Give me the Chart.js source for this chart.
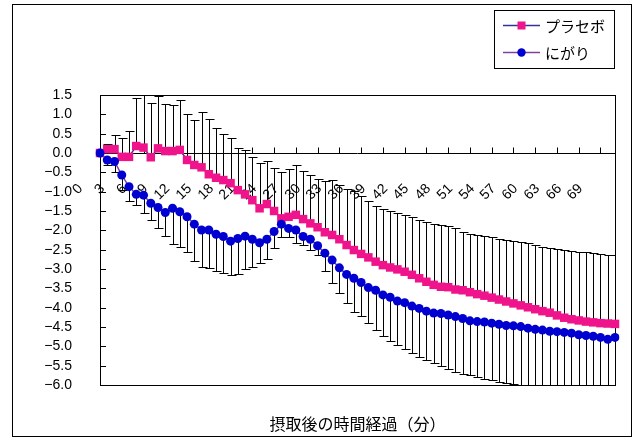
<!DOCTYPE html>
<html>
<head>
<meta charset="utf-8">
<script src="https://cdn.jsdelivr.net/npm/chart.js@4/dist/chart.umd.min.js"></script>
<style>
  html, body { margin: 0; padding: 0; background: #fff; }
  canvas { display: block; }
</style>
</head>
<body>
<canvas id="chart" width="642" height="441"></canvas>
<script>
// Minutes after intake (one sample per minute)
const minutes = [
  0, 1, 2, 3, 4, 5, 6, 7, 8, 9, 10, 11, 12, 13, 14, 15, 16, 17,
  18, 19, 20, 21, 22, 23, 24, 25, 26, 27, 28, 29, 30, 31, 32, 33, 34, 35,
  36, 37, 38, 39, 40, 41, 42, 43, 44, 45, 46, 47, 48, 49, 50, 51, 52, 53,
  54, 55, 56, 57, 58, 59, 60, 61, 62, 63, 64, 65, 66, 67, 68, 69, 70, 71
];

// Placebo: mean change and top of its (+) error bar
const placeboMean = [
  0.00, 0.10, 0.10, -0.10, -0.10, 0.18, 0.14, -0.11, 0.12, 0.05, 0.05, 0.08,
  -0.18, -0.31, -0.37, -0.55, -0.64, -0.70, -0.78, -0.96, -1.07, -1.22, -1.43, -1.32,
  -1.50, -1.69, -1.65, -1.60, -1.71, -1.82, -1.92, -2.05, -2.12, -2.23, -2.38, -2.51,
  -2.61, -2.70, -2.81, -2.90, -2.96, -3.01, -3.07, -3.15, -3.24, -3.33, -3.41, -3.46,
  -3.47, -3.53, -3.55, -3.60, -3.65, -3.69, -3.74, -3.79, -3.84, -3.89, -3.94, -3.99,
  -4.04, -4.09, -4.13, -4.20, -4.26, -4.30, -4.33, -4.36, -4.38, -4.40, -4.41, -4.42
];
const placeboUpper = [
  0.00, 0.23, 0.47, 0.39, 0.58, 1.42, 1.52, 1.30, 1.47, 1.28, 1.25, 1.38,
  1.00, 0.85, 1.05, 0.88, 0.65, 0.48, 0.40, 0.14, 0.08, -0.10, -0.25, -0.21,
  -0.40, -0.50, -0.42, -0.30, -0.46, -0.57, -0.68, -0.73, -0.70, -0.83, -0.93, -0.97,
  -1.10, -1.25, -1.37, -1.45, -1.51, -1.54, -1.60, -1.66, -1.72, -1.78, -1.83, -1.87,
  -1.90, -1.93, -2.04, -2.10, -2.13, -2.15, -2.18, -2.22, -2.25, -2.27, -2.31, -2.34,
  -2.38, -2.42, -2.45, -2.48, -2.52, -2.54, -2.55, -2.57, -2.59, -2.61, -2.63, -2.64
];

// Nigari: mean change and bottom of its (-) error bar
const nigariMean = [
  0.00, -0.18, -0.22, -0.57, -0.87, -1.07, -1.09, -1.30, -1.41, -1.54, -1.43, -1.52,
  -1.65, -1.84, -1.99, -1.99, -2.10, -2.16, -2.28, -2.21, -2.15, -2.23, -2.32, -2.23,
  -2.03, -1.84, -1.95, -1.99, -2.16, -2.23, -2.40, -2.59, -2.77, -2.97, -3.14, -3.24,
  -3.35, -3.48, -3.55, -3.67, -3.73, -3.83, -3.87, -3.96, -4.02, -4.09, -4.14, -4.15,
  -4.19, -4.23, -4.28, -4.34, -4.36, -4.37, -4.40, -4.43, -4.46, -4.47, -4.49, -4.53,
  -4.56, -4.58, -4.61, -4.62, -4.64, -4.66, -4.70, -4.72, -4.74, -4.77, -4.82, -4.77
];
const nigariLower = [
  0.00, -0.32, -0.48, -0.95, -1.24, -1.34, -1.55, -1.72, -1.95, -2.15, -2.35, -2.42,
  -2.55, -2.80, -2.95, -2.98, -3.05, -3.10, -3.15, -3.12, -3.00, -2.95, -2.85, -2.75,
  -2.45, -2.18, -2.18, -2.34, -2.38, -2.52, -2.65, -3.05, -3.35, -3.62, -3.88, -4.10,
  -4.22, -4.40, -4.58, -4.74, -4.85, -4.96, -5.06, -5.16, -5.27, -5.36, -5.44, -5.52,
  -5.59, -5.66, -5.71, -5.75, -5.80, -5.85, -5.88, -5.93, -5.96, -5.98, -6.00, -6.02,
  -6.04, -6.06, -6.08, -6.10, -6.12, -6.14, -6.16, -6.18, -6.20, -6.22, -6.25, -6.24
];

const seriesNames = ['プラセボ', 'にがり'];
const xAxisTitle = '摂取後の時間経過（分）';
const xLabelStep = 3;      // a minute label every 3 minutes
const yMin = -6.0, yMax = 1.5, yStep = 0.5;

const PINK = '#F0148C';
const BLUE = '#0000D0';
const PLACEBO_LINE = '#333399';
const NIGARI_LINE = '#8040A0';
const LABEL_FONT = '14px "Liberation Sans", Arial, sans-serif';
const JP_FONT = '"Noto Sans CJK JP", sans-serif';

const fmt = v => v.toFixed(1).replace('-', '\u2212');

// Plot frame, zero axis with minute labels, and the error bars (behind the markers)
const underlay = {
  id: 'underlay',
  beforeDatasetsDraw(chart) {
    const { ctx, chartArea: a, scales: { x, y } } = chart;
    ctx.save();
    ctx.strokeStyle = '#000';
    ctx.lineWidth = 1;

    // plot-area border
    ctx.strokeRect(Math.round(a.left) + 0.5, Math.round(a.top) + 0.5,
                   Math.round(a.right - a.left), Math.round(a.bottom - a.top));

    // inward tick marks on the value axis
    y.ticks.forEach(t => {
      const py = Math.round(y.getPixelForValue(t.value)) + 0.5;
      ctx.beginPath();
      ctx.moveTo(a.left, py);
      ctx.lineTo(a.left + 6, py);
      ctx.stroke();
    });

    // category axis crossing at zero
    const y0 = Math.round(y.getPixelForValue(0)) + 0.5;
    ctx.beginPath();
    ctx.moveTo(a.left, y0);
    ctx.lineTo(a.right, y0);
    ctx.stroke();

    ctx.font = LABEL_FONT;
    ctx.fillStyle = '#000';
    ctx.textAlign = 'right';
    ctx.textBaseline = 'middle';
    minutes.forEach((m, i) => {
      if (i % xLabelStep !== 0) return;
      const px = Math.round(x.getPixelForValue(i)) + 0.5;
      ctx.beginPath();
      ctx.moveTo(px, y0);
      ctx.lineTo(px, y0 - 6);
      ctx.stroke();
      ctx.save();
      ctx.translate(px - 20, y0 + 33);
      ctx.rotate(-Math.PI / 4);
      ctx.fillText(String(m), 0, 0);
      ctx.restore();
    });

    // error bars, clipped to the plot area
    ctx.beginPath();
    ctx.rect(a.left, a.top, a.right - a.left, a.bottom - a.top);
    ctx.clip();
    const bar = (i, from, to) => {
      if (from === to) return;
      const px = Math.round(x.getPixelForValue(i)) + 0.5;
      const p1 = y.getPixelForValue(from);
      const p2 = Math.round(y.getPixelForValue(to)) + 0.5;
      ctx.beginPath();
      ctx.moveTo(px, p1);
      ctx.lineTo(px, p2);
      ctx.moveTo(px - 4, p2);
      ctx.lineTo(px + 5, p2);
      ctx.stroke();
    };
    minutes.forEach((m, i) => {
      bar(i, placeboMean[i], placeboUpper[i]);
      bar(i, nigariMean[i], nigariLower[i]);
    });
    ctx.restore();
  }
};

// Legend box, axis title and chart border
const overlay = {
  id: 'overlay',
  afterDraw(chart) {
    const { ctx, chartArea: a } = chart;
    ctx.save();
    ctx.strokeStyle = '#000';
    ctx.lineWidth = 1;
    ctx.strokeRect(12.5, 4.5, 619, 432);

    // legend
    ctx.strokeRect(494.5, 10.5, 120, 58);
    const rows = [
      { y: 25, line: PLACEBO_LINE, color: PINK, shape: 'rect', name: seriesNames[0] },
      { y: 52, line: NIGARI_LINE, color: BLUE, shape: 'circle', name: seriesNames[1] }
    ];
    rows.forEach(r => {
      ctx.strokeStyle = r.line;
      ctx.lineWidth = 1.5;
      ctx.beginPath();
      ctx.moveTo(503, r.y + 0.5);
      ctx.lineTo(540, r.y + 0.5);
      ctx.stroke();
      ctx.fillStyle = r.color;
      if (r.shape === 'rect') {
        ctx.fillRect(517.5, r.y - 3.5, 8, 8);
      } else {
        ctx.beginPath();
        ctx.arc(521.5, r.y + 0.5, 4.2, 0, Math.PI * 2);
        ctx.fill();
      }
      ctx.fillStyle = '#000';
      ctx.font = '15px ' + JP_FONT;
      ctx.textAlign = 'left';
      ctx.textBaseline = 'middle';
      ctx.fillText(r.name, 545, r.y + 1);
    });

    // category axis title
    ctx.fillStyle = '#000';
    ctx.font = '16px ' + JP_FONT;
    ctx.textAlign = 'center';
    ctx.textBaseline = 'middle';
    ctx.fillText(xAxisTitle, (a.left + a.right) / 2, 424);
    ctx.restore();
  }
};

new Chart(document.getElementById('chart'), {
  type: 'line',
  data: {
    labels: minutes,
    datasets: [
      {
        label: seriesNames[0],
        data: placeboMean,
        borderColor: PLACEBO_LINE,
        borderWidth: 1.5,
        pointStyle: 'rect',
        pointRadius: 6,
        pointBackgroundColor: PINK,
        pointBorderColor: PINK,
        pointBorderWidth: 0,
        tension: 0,
        order: 2
      },
      {
        label: seriesNames[1],
        data: nigariMean,
        borderColor: NIGARI_LINE,
        borderWidth: 1.5,
        pointStyle: 'circle',
        pointRadius: 4.5,
        pointBackgroundColor: BLUE,
        pointBorderColor: BLUE,
        pointBorderWidth: 0,
        tension: 0,
        order: 1
      }
    ]
  },
  options: {
    responsive: false,
    animation: false,
    devicePixelRatio: 1,
    layout: { padding: { left: 12, right: 27, top: 95, bottom: 56 } },
    plugins: { legend: { display: false }, tooltip: { enabled: false } },
    scales: {
      x: { type: 'category', display: false, offset: false },
      y: {
        min: yMin,
        max: yMax,
        afterFit(scale) { scale.width = 88; },
        grid: { display: false, drawTicks: false },
        border: { display: false },
        ticks: {
          stepSize: yStep,
          maxTicksLimit: 100,
          autoSkip: false,
          padding: 28,
          color: '#000',
          font: { family: '"Liberation Sans", Arial, sans-serif', size: 14 },
          callback: v => fmt(v)
        }
      }
    }
  },
  plugins: [underlay, overlay]
});
</script>
</body>
</html>
